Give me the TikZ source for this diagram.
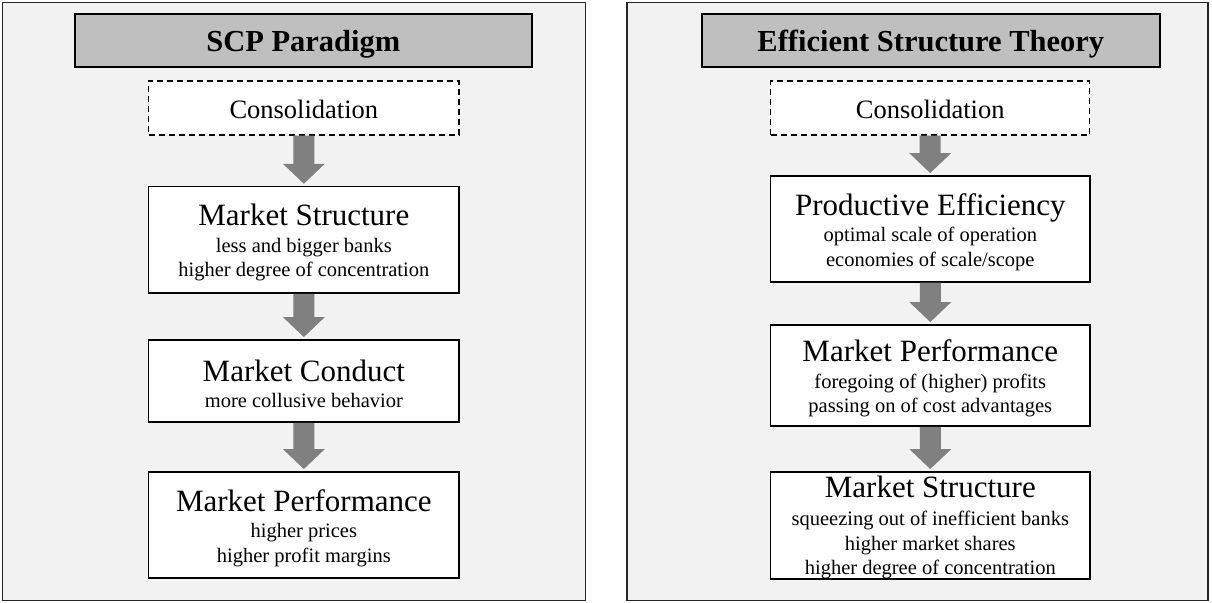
\documentclass[tikz,border=0pt]{standalone}
\usepackage{fontspec}
\setmainfont{Liberation Serif}
\usetikzlibrary{calc}
\definecolor{panelc}{HTML}{F2F2F2}
\definecolor{titlec}{HTML}{BFBFBF}
\definecolor{arrc}{HTML}{808080}
\tikzset{
 panel/.style={draw=black!85, line width=1.2pt, fill=panelc},
 titlebox/.style={draw=black, line width=2pt, fill=titlec, inner sep=0pt, anchor=base, font=\bfseries\fontsize{30.5}{30.5}\selectfont},
 consbox/.style={draw=black, dash pattern=on 6pt off 4pt, line width=1.3pt, fill=white, inner sep=0pt, anchor=base, font=\fontsize{26.5}{26.5}\selectfont},
 stagebox/.style={draw=black, line width=1.5pt, fill=white, inner sep=0pt},
 stagetext/.style={align=center, inner sep=0pt, font=\fontsize{20.5}{24.5}\selectfont},
}
\newcommand\hd[1]{{\fontsize{31}{31}\selectfont #1}}
\newcommand\fatarrow[2]{\fill[arrc] let \p1=(#1.south), \p2=(#2.north) in (\x1-10.5pt,\y1) -- (\x1+10.5pt,\y1) -- (\x1+10.5pt,\y2+22pt) -- (\x1+21pt,\y2+22pt) -- (\x1,\y2+2pt) -- (\x1-21pt,\y2+22pt) -- (\x1-10.5pt,\y2+22pt) -- cycle;}
\begin{document}
\begin{tikzpicture}[x=1pt,y=1pt]
\useasboundingbox (0,0) rectangle (1212,-602);
\fill[white] (0,0) rectangle (1212,-602);
\draw[panel] (2.5,-2.5) rectangle (585.5,-600.5);
\draw[panel] (627,-2.5) rectangle (1208,-600.5);
% left column
\node[titlebox, minimum width=456.7, text height=37.7, text depth=14.7] (lt) at (303.3,-52) {SCP Paradigm};
\node[consbox, minimum width=310.3, text height=37, text depth=17] (lc) at (303.85,-118) {Consolidation};
\node[stagebox, minimum width=310.3, minimum height=106.7] (lms) at (303.85,-239.85) {};
\node[stagebox, minimum width=310.3, minimum height=82.4] (lmc) at (303.85,-381) {};
\node[stagebox, minimum width=310.3, minimum height=106.4] (lmp) at (303.85,-525) {};
\node[stagetext] (lmst) at ([yshift=-3]lms.center) {\hd{Market Structure}\\[2pt] less and bigger banks\\ higher degree of concentration};
\node[stagetext] (lmct) at ([yshift=-3]lmc.center) {\hd{Market Conduct}\\[2pt] more collusive behavior};
\node[stagetext] (lmpt) at ([yshift=-3]lmp.center) {\hd{Market Performance}\\[2pt] higher prices\\ higher profit margins};
\fatarrow{lc}{lms}
\fatarrow{lms}{lmc}
\fatarrow{lmc}{lmp}
% right column
\node[titlebox, minimum width=457.7, text height=37.7, text depth=14.7] (rt) at (930.85,-52) {Efficient Structure Theory};
\node[consbox, minimum width=319, text height=37, text depth=17] (rc) at (930.2,-118) {Consolidation};
\node[stagebox, minimum width=319.3, minimum height=106.1] (rpe) at (930.3,-228.85) {};
\node[stagebox, minimum width=319.3, minimum height=101.4] (rmp) at (930.3,-375.5) {};
\node[stagebox, minimum width=319.3, minimum height=107.4] (rms) at (930.3,-525.5) {};
\node[stagetext] (rpet) at ([yshift=-3]rpe.center) {\hd{Productive Efficiency}\\[2pt] optimal scale of operation\\ economies of scale/scope};
\node[stagetext] (rmpt) at ([yshift=-3]rmp.center) {\hd{Market Performance}\\[2pt] foregoing of (higher) profits\\ passing on of cost advantages};
\node[stagetext] (rmst) at ([yshift=-2]rms.center) {\hd{Market Structure}\\[4pt] squeezing out of inefficient banks\\ higher market shares\\ higher degree of concentration};
\fatarrow{rc}{rpe}
\fatarrow{rpe}{rmp}
\fatarrow{rmp}{rms}
\end{tikzpicture}
\end{document}
